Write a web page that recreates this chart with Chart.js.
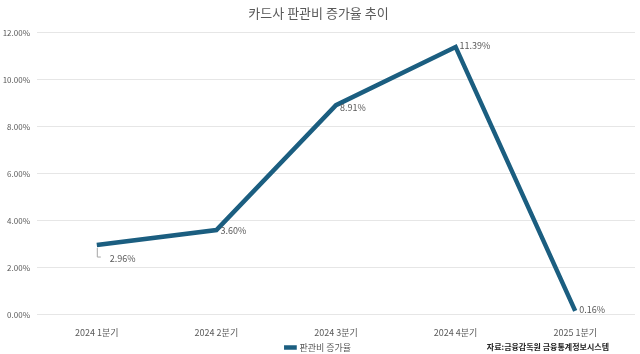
<!DOCTYPE html>
<html>
<head>
<meta charset="utf-8">
<script src="https://cdn.jsdelivr.net/npm/chart.js@4"></script>
<style>
  html, body { margin: 0; padding: 0; background: #fff; }
  #wrap { width: 640px; height: 354px; }
</style>
</head>
<body>
<div id="wrap"><canvas id="rateChart"></canvas></div>
<script>
const quarters = ['2024 1분기', '2024 2분기', '2024 3분기', '2024 4분기', '2025 1분기']
const growthRates = [2.96, 3.60, 8.91, 11.39, 0.16]
const yTicks = [0, 2, 4, 6, 8, 10, 12]

const lineColor = '#1b5e80'
const textColor = '#595959'
const fontFamily = '"Malgun Gothic", "Noto Sans CJK KR", sans-serif'

// labels next to each point + source note at bottom right
const labelPlugin = {
    id: 'pointLabels',
    afterDatasetsDraw(chart) {
        const ctx = chart.ctx
        const meta = chart.getDatasetMeta(0)
        ctx.save()
        ctx.font = '9px ' + fontFamily
        ctx.fillStyle = textColor
        ctx.textBaseline = 'middle'
        ctx.textAlign = 'left'
        meta.data.forEach((pt, i) => {
            const txt = growthRates[i].toFixed(2) + '%'
            let x = pt.x + 4, y = pt.y
            if (i === 0) {
                // leader line down to label
                ctx.strokeStyle = '#a6a6a6'
                ctx.lineWidth = 1
                ctx.beginPath()
                ctx.moveTo(pt.x + 0.5, pt.y + 3)
                ctx.lineTo(pt.x + 0.5, pt.y + 12)
                ctx.lineTo(pt.x + 4, pt.y + 12)
                ctx.stroke()
                x = pt.x + 13; y = pt.y + 14
            } else if (i === 1) {
                y = pt.y + 1
            } else if (i === 2) {
                y = pt.y + 2
            } else if (i === 3) {
                y = pt.y - 1
            } else {
                y = pt.y - 1
            }
            ctx.fillText(txt, x, y)
        })
        ctx.font = 'bold 8px ' + fontFamily
        ctx.fillStyle = '#222'
        ctx.textAlign = 'right'
        ctx.fillText('자료:금융감독원 금융통계정보시스템', 609, 347)
        ctx.restore()
    }
}

new Chart(document.getElementById('rateChart'), {
    type: 'line',
    data: {
        labels: quarters,
        datasets: [{
            label: '판관비 증가율',
            data: growthRates,
            borderColor: lineColor,
            backgroundColor: lineColor,
            borderWidth: 4.5,
            pointRadius: 0,
            tension: 0
        }]
    },
    options: {
        responsive: true,
        maintainAspectRatio: false,
        animation: false,
        layout: { padding: { left: 2, right: 5, top: 0, bottom: -8 } },
        plugins: {
            title: {
                display: true,
                text: '카드사 판관비 증가율 추이',
                color: textColor,
                font: { family: fontFamily, size: 13, weight: 'normal' },
                padding: { top: 5, bottom: 12 }
            },
            legend: {
                position: 'bottom',
                labels: {
                    usePointStyle: true,
                    pointStyle: 'line',
                    color: textColor,
                    font: { family: fontFamily, size: 9 },
                    boxWidth: 14,
                    padding: 0
                }
            },
            tooltip: { enabled: false }
        },
        scales: {
            x: {
                offset: true,
                grid: { display: false },
                border: { display: false },
                ticks: {
                    color: textColor,
                    font: { family: fontFamily, size: 9, lineHeight: 1.6 },
                    padding: 3,
                    maxRotation: 0
                }
            },
            y: {
                min: 0,
                max: 12,
                afterBuildTicks: (axis) => { axis.ticks = yTicks.map(v => ({ value: v })) },
                afterFit: (axis) => { axis.width = 35 },
                grid: { color: '#e6e6e6', drawTicks: false },
                border: { display: false },
                ticks: {
                    color: textColor,
                    font: { family: fontFamily, size: 8 },
                    padding: 7,
                    callback: (v) => v.toFixed(2) + '%'
                }
            }
        }
    },
    plugins: [labelPlugin]
})
</script>
</body>
</html>
